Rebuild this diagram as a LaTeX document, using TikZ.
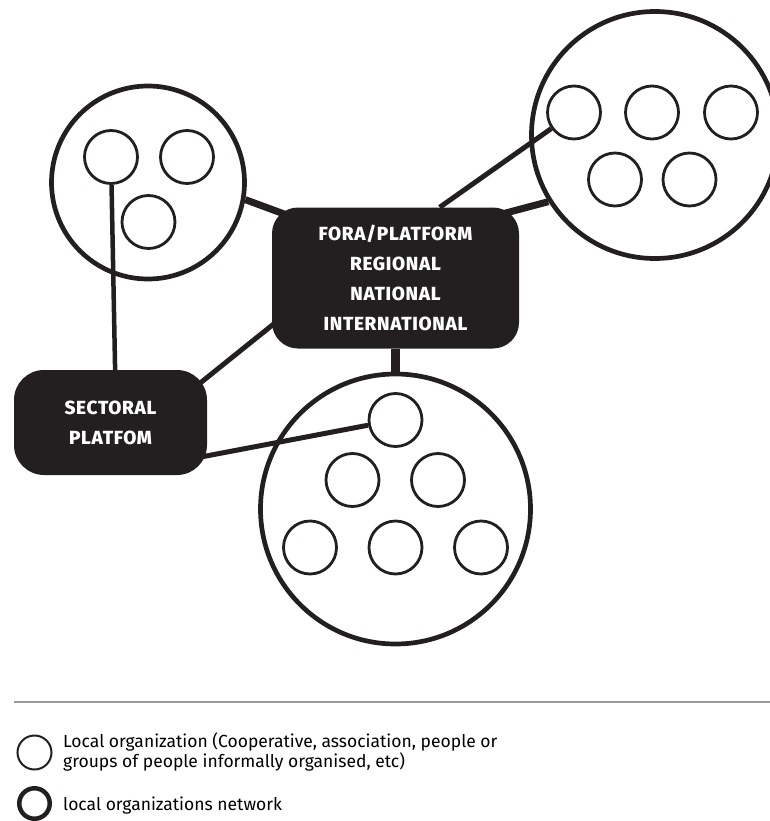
\documentclass[tikz,border=0pt]{standalone}
\usepackage{fontspec}
\setmainfont{Fira Sans}
\newfontfamily\platformfont{Fira Sans ExtraBold}[LetterSpace=3.5]
\definecolor{ink}{HTML}{231F20}
\pgfdeclarelayer{background}
\pgfsetlayers{background,main}
\begin{document}
\begin{tikzpicture}[x=1pt,y=-1pt,
		org/.style={circle,draw=ink,fill=white,line width=2.8pt,minimum size=53pt,inner sep=0pt},
		net/.style={circle,draw=ink,line width=4.7pt,inner sep=0pt},
		platform/.style={fill=ink,text=white,align=center,inner sep=0pt,rounded corners=26pt,
			font=\platformfont\fontsize{19}{30}\selectfont},
		thicklink/.style={draw=ink,line width=7pt},
		thinlink/.style={draw=ink,line width=5pt},
		keytext/.style={inner sep=0pt,align=left,font=\fontsize{17.5}{18.5}\selectfont}]
		\useasboundingbox (0,0) rectangle (770,821);
		\clip (0,0) rectangle (770,821);

		\node[net,minimum size=193pt] (lnet) at (148,182.5) {};
		\node[net,minimum size=247pt] (rnet) at (655,135) {};
		\node[net,minimum size=270pt] (bnet) at (395.5,509) {};

		\node[platform,minimum width=247pt,minimum height=141pt] (fora) at (395.5,278)
			{FORA/PLATFORM\\REGIONAL\\NATIONAL\\INTERNATIONAL};
		\node[platform,minimum width=193pt,minimum height=105pt,rounded corners=30pt] (sect) at (110.5,422.5)
			{SECTORAL\\PLATFOM};

		\foreach \n/\x/\y in {l1/111/157,l2/187/157,l3/148.5/222,
			r1/574/112.5,r2/652/112.5,r3/731/112.5,r4/615/179.5,r5/689.5/179.5,
			b1/395.5/420,b2/352.5/480,b3/438/480,b4/310/547.5,b5/395.5/547.5,b6/481/547.5}
			\node[org] (\n) at (\x,\y) {};

		\begin{pgfonlayer}{background}
			\draw[thicklink,shorten >=-22pt] (lnet.-10) -- (fora.151);
			\draw[thicklink,shorten >=-22pt] (rnet.212) -- (fora.29);
			\draw[line width=8.5pt,draw=ink] (fora.south) -- (bnet.north);
			\draw[thinlink] (fora.58) -- (r1);
			\draw[thinlink,shorten <=-5pt,shorten >=-15pt] (fora.201) -- (sect.25);
			\draw[thinlink,shorten <=-8pt] (sect.-19) -- (b1);
			\draw[draw=ink,line width=4.5pt] (l1) -- (sect.85);
		\end{pgfonlayer}

		\draw[gray!80,line width=1.3pt] (14,702) -- (770,702);
		\node[org,minimum size=34pt,line width=2pt] (keyorg) at (34.5,752.5) {};
		\node[org,minimum size=30.5pt,line width=4.5pt] (keynet) at (34.5,803.5) {};
		\node[keytext,anchor=north west] (keyorgtext) at (63,733)
			{Local organization (Cooperative, association, people or\\groups of people informally organised, etc)};
		\node[keytext,anchor=base west] (keynettext) at (63,810) {local organizations network};
\end{tikzpicture}
\end{document}
